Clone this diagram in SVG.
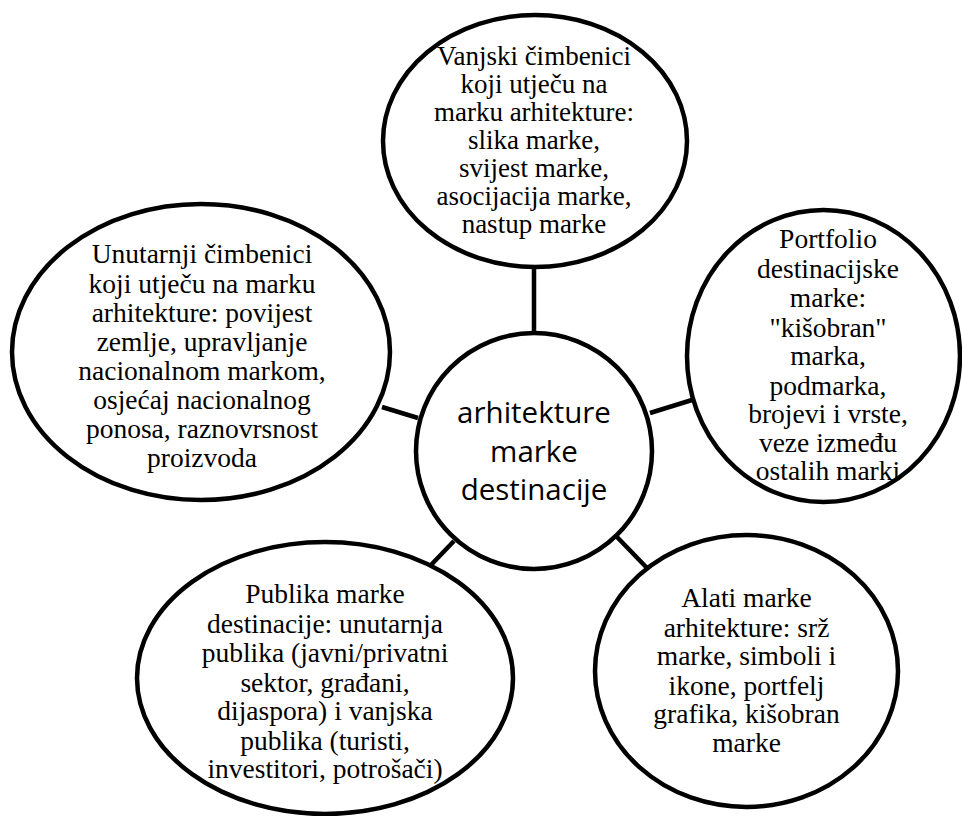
<svg xmlns="http://www.w3.org/2000/svg" width="962" height="816" viewBox="0 0 962 816">
<style>
.shape{fill:#ffffff;stroke:#000000;stroke-width:4.5}
.conn{stroke:#000000;stroke-width:4.5;fill:none}
.t{font-family:"Liberation Serif","Times New Roman",serif;font-size:27.5px;fill:#000000;text-anchor:middle}
.tt{font-size:27px}
.c{font-family:"Open Sans","Liberation Sans",sans-serif;font-size:29.5px;fill:#000000;text-anchor:middle}
</style>
<rect width="962" height="816" fill="#ffffff"/>
<g id="connectors">
<line class="conn" x1="534" y1="266" x2="534" y2="334"/>
<line class="conn" x1="382" y1="407" x2="418" y2="418"/>
<line class="conn" x1="650" y1="413" x2="692" y2="400"/>
<line class="conn" x1="430" y1="566" x2="454" y2="541"/>
<line class="conn" x1="617" y1="537" x2="648" y2="569"/>
</g>
<g id="node-top">
<ellipse class="shape" cx="535" cy="141" rx="152" ry="126"/>
<text class="t tt"><tspan x="534" y="65">Vanjski čimbenici</tspan><tspan x="534" y="93.3">koji utječu na</tspan><tspan x="534" y="121">marku arhitekture:</tspan><tspan x="534" y="148.5">slika marke,</tspan><tspan x="534" y="176.7">svijest marke,</tspan><tspan x="534" y="205">asocijacija marke,</tspan><tspan x="534" y="233.3">nastup marke</tspan></text>
</g>
<g id="node-left">
<ellipse class="shape" cx="201" cy="352" rx="189" ry="148"/>
<text class="t"><tspan x="202" y="263.3">Unutarnji čimbenici</tspan><tspan x="202" y="292.7">koji utječu na marku</tspan><tspan x="202" y="321.7">arhitekture: povijest</tspan><tspan x="202" y="351">zemlje, upravljanje</tspan><tspan x="202" y="380">nacionalnom markom,</tspan><tspan x="202" y="409">osjećaj nacionalnog</tspan><tspan x="202" y="438.3">ponosa, raznovrsnost</tspan><tspan x="202" y="466.7">proizvoda</tspan></text>
</g>
<g id="node-right">
<ellipse class="shape" cx="823.5" cy="356" rx="136.5" ry="146"/>
<text class="t"><tspan x="828" y="248.3">Portfolio</tspan><tspan x="828" y="278.3">destinacijske</tspan><tspan x="828" y="307.3">marke:</tspan><tspan x="828" y="336.7">"kišobran"</tspan><tspan x="828" y="365">marka,</tspan><tspan x="828" y="395">podmarka,</tspan><tspan x="828" y="423.3">brojevi i vrste,</tspan><tspan x="828" y="451.7">veze između</tspan><tspan x="828" y="480">ostalih marki</tspan></text>
</g>
<g id="node-bottom-left">
<ellipse class="shape" cx="325" cy="678" rx="188" ry="136"/>
<text class="t"><tspan x="325" y="603.3">Publika marke</tspan><tspan x="325" y="632.7">destinacije: unutarnja</tspan><tspan x="325" y="661.7">publika (javni/privatni</tspan><tspan x="325" y="691.7">sektor, građani,</tspan><tspan x="325" y="720">dijaspora) i vanjska</tspan><tspan x="325" y="750">publika (turisti,</tspan><tspan x="325" y="778.3">investitori, potrošači)</tspan></text>
</g>
<g id="node-bottom-right">
<ellipse class="shape" cx="746.5" cy="671" rx="151.5" ry="136"/>
<text class="t"><tspan x="746.5" y="606.7">Alati marke</tspan><tspan x="746.5" y="636.7">arhitekture: srž</tspan><tspan x="746.5" y="665">marke, simboli i</tspan><tspan x="746.5" y="695">ikone, portfelj</tspan><tspan x="746.5" y="723.3">grafika, kišobran</tspan><tspan x="746.5" y="751.7">marke</tspan></text>
</g>
<g id="node-center">
<circle class="shape" cx="534" cy="451" r="118"/>
<text class="c"><tspan x="534" y="423.3">arhitekture</tspan><tspan x="534" y="461.7">marke</tspan><tspan x="534" y="500">destinacije</tspan></text>
</g>
</svg>
